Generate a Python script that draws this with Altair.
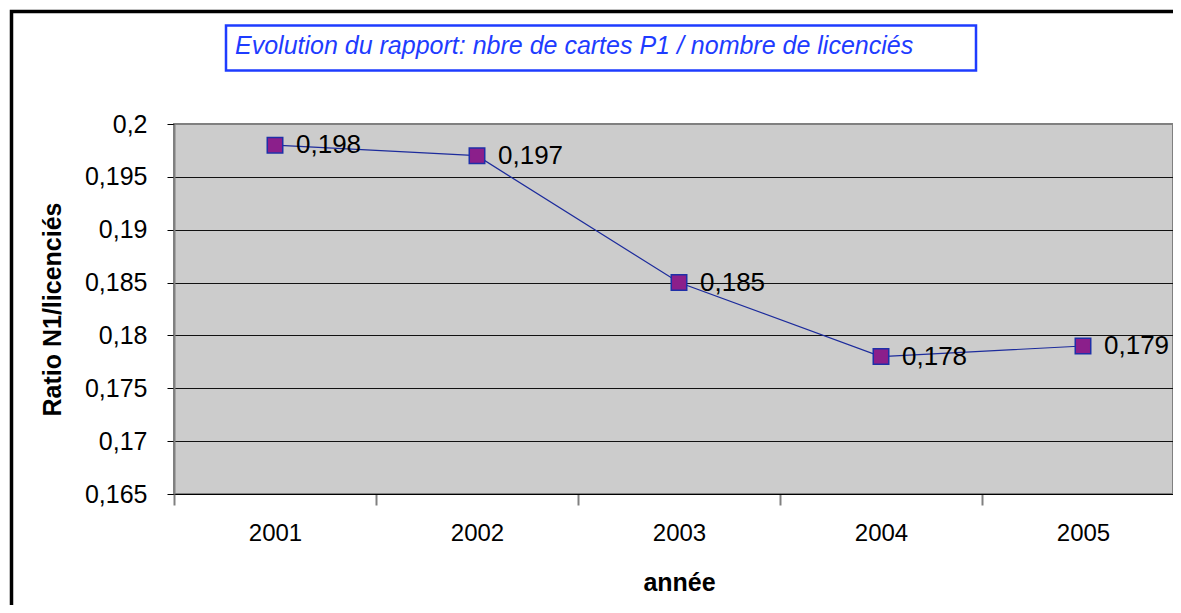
import altair as alt
import pandas as pd

years = ["2001", "2002", "2003", "2004", "2005"]
ratios = [0.198, 0.197, 0.185, 0.178, 0.179]
y_ticks = [0.165, 0.17, 0.175, 0.18, 0.185, 0.19, 0.195, 0.2]
title_text = "Evolution du rapport: nbre de cartes P1 / nombre de licenciés"
x_title = "année"
y_title = "Ratio N1/licenciés"

FONT = "Liberation Sans, Arial, sans-serif"
BLUE = "#1E3CFF"
W, H = 999, 370
XRANGE = 1010

df = pd.DataFrame({"year": years, "ratio": ratios})
base = alt.Chart(df).transform_calculate(
    label="replace(format(datum.ratio, '.3f'), '.', ',')"
)

x_enc = alt.X(
    "year:O",
    bandPosition=0.5,
    scale=alt.Scale(type="band", paddingInner=0, paddingOuter=0, range=[0, XRANGE]),
    axis=alt.Axis(
        title=x_title,
        titleFont=FONT, titleFontSize=25, titleFontWeight="bold", titleColor="#000",
        titleX=XRANGE / 2, titleY=88, titleBaseline="middle", titleAlign="center",
        labelFont=FONT, labelFontSize=24, labelColor="#000", labelAngle=0,
        labelPadding=16, tickSize=11, tickColor="#808080", tickWidth=2,
        tickBand="extent", domainColor="#000", domainWidth=1, grid=False,
    ),
)
y_enc = alt.Y(
    "ratio:Q",
    scale=alt.Scale(domain=[0.165, 0.2], zero=False, nice=False),
    axis=alt.Axis(
        title=y_title, values=y_ticks,
        labelExpr="replace(format(datum.value, '.3~f'), '.', ',')",
        titleFont=FONT, titleFontSize=25, titleFontWeight="bold", titleColor="#000",
        titleAngle=270, titleX=-122, titleY=H / 2, titleBaseline="middle", titleAlign="center",
        labelFont=FONT, labelFontSize=25, labelColor="#000", labelPadding=20,
        tickSize=7, tickColor="#000", tickWidth=1,
        domainColor="#808080", domainWidth=2,
        grid=True, gridColor={"expr": "datum.value >= 0.2 ? '#808080' : '#111111'"}, gridWidth=1,
    ),
)

line = base.mark_line(color="#1C2B9C", strokeWidth=1.2).encode(x=x_enc, y=y_enc)
pts = base.mark_point(shape="square", size=240, filled=True, fill="#8B1F8B",
                      stroke="#1F2FA8", strokeWidth=1.5, opacity=1).encode(x=x_enc, y=y_enc)
labels = base.mark_text(align="left", baseline="middle", dx=21, font=FONT,
                        fontSize=26, color="#000").encode(x=x_enc, y=y_enc, text="label:N")

frame = alt.Chart(pd.DataFrame({"a": [0]})).mark_rect(
    fill=None, stroke="#000", strokeWidth=3.5
).encode(x=alt.value(-162.5), x2=alt.value(1300), y=alt.value(-112.5), y2=alt.value(800))

title_box = alt.Chart(pd.DataFrame({"a": [0]})).mark_rect(
    fill="white", stroke=BLUE, strokeWidth=2.5
).encode(x=alt.value(52), x2=alt.value(802), y=alt.value(-98.5), y2=alt.value(-53.5))

title_txt = alt.Chart(pd.DataFrame({"t": [title_text]})).mark_text(
    align="left", baseline="alphabetic", font=FONT, fontSize=25, fontStyle="italic", color=BLUE
).encode(x=alt.value(61), y=alt.value(-70), text="t:N")

chart = alt.layer(frame, title_box, title_txt, line, pts, labels).properties(
    width=W, height=H,
    autosize=alt.AutoSizeParams(type="none"),
    padding={"left": 166, "top": 116, "right": 0, "bottom": 111},
    background="white",
).configure_view(fill="#CCCCCC", stroke="#808080", strokeWidth=2)

chart.save("out.html", embed_options={"renderer": "svg", "actions": False})
